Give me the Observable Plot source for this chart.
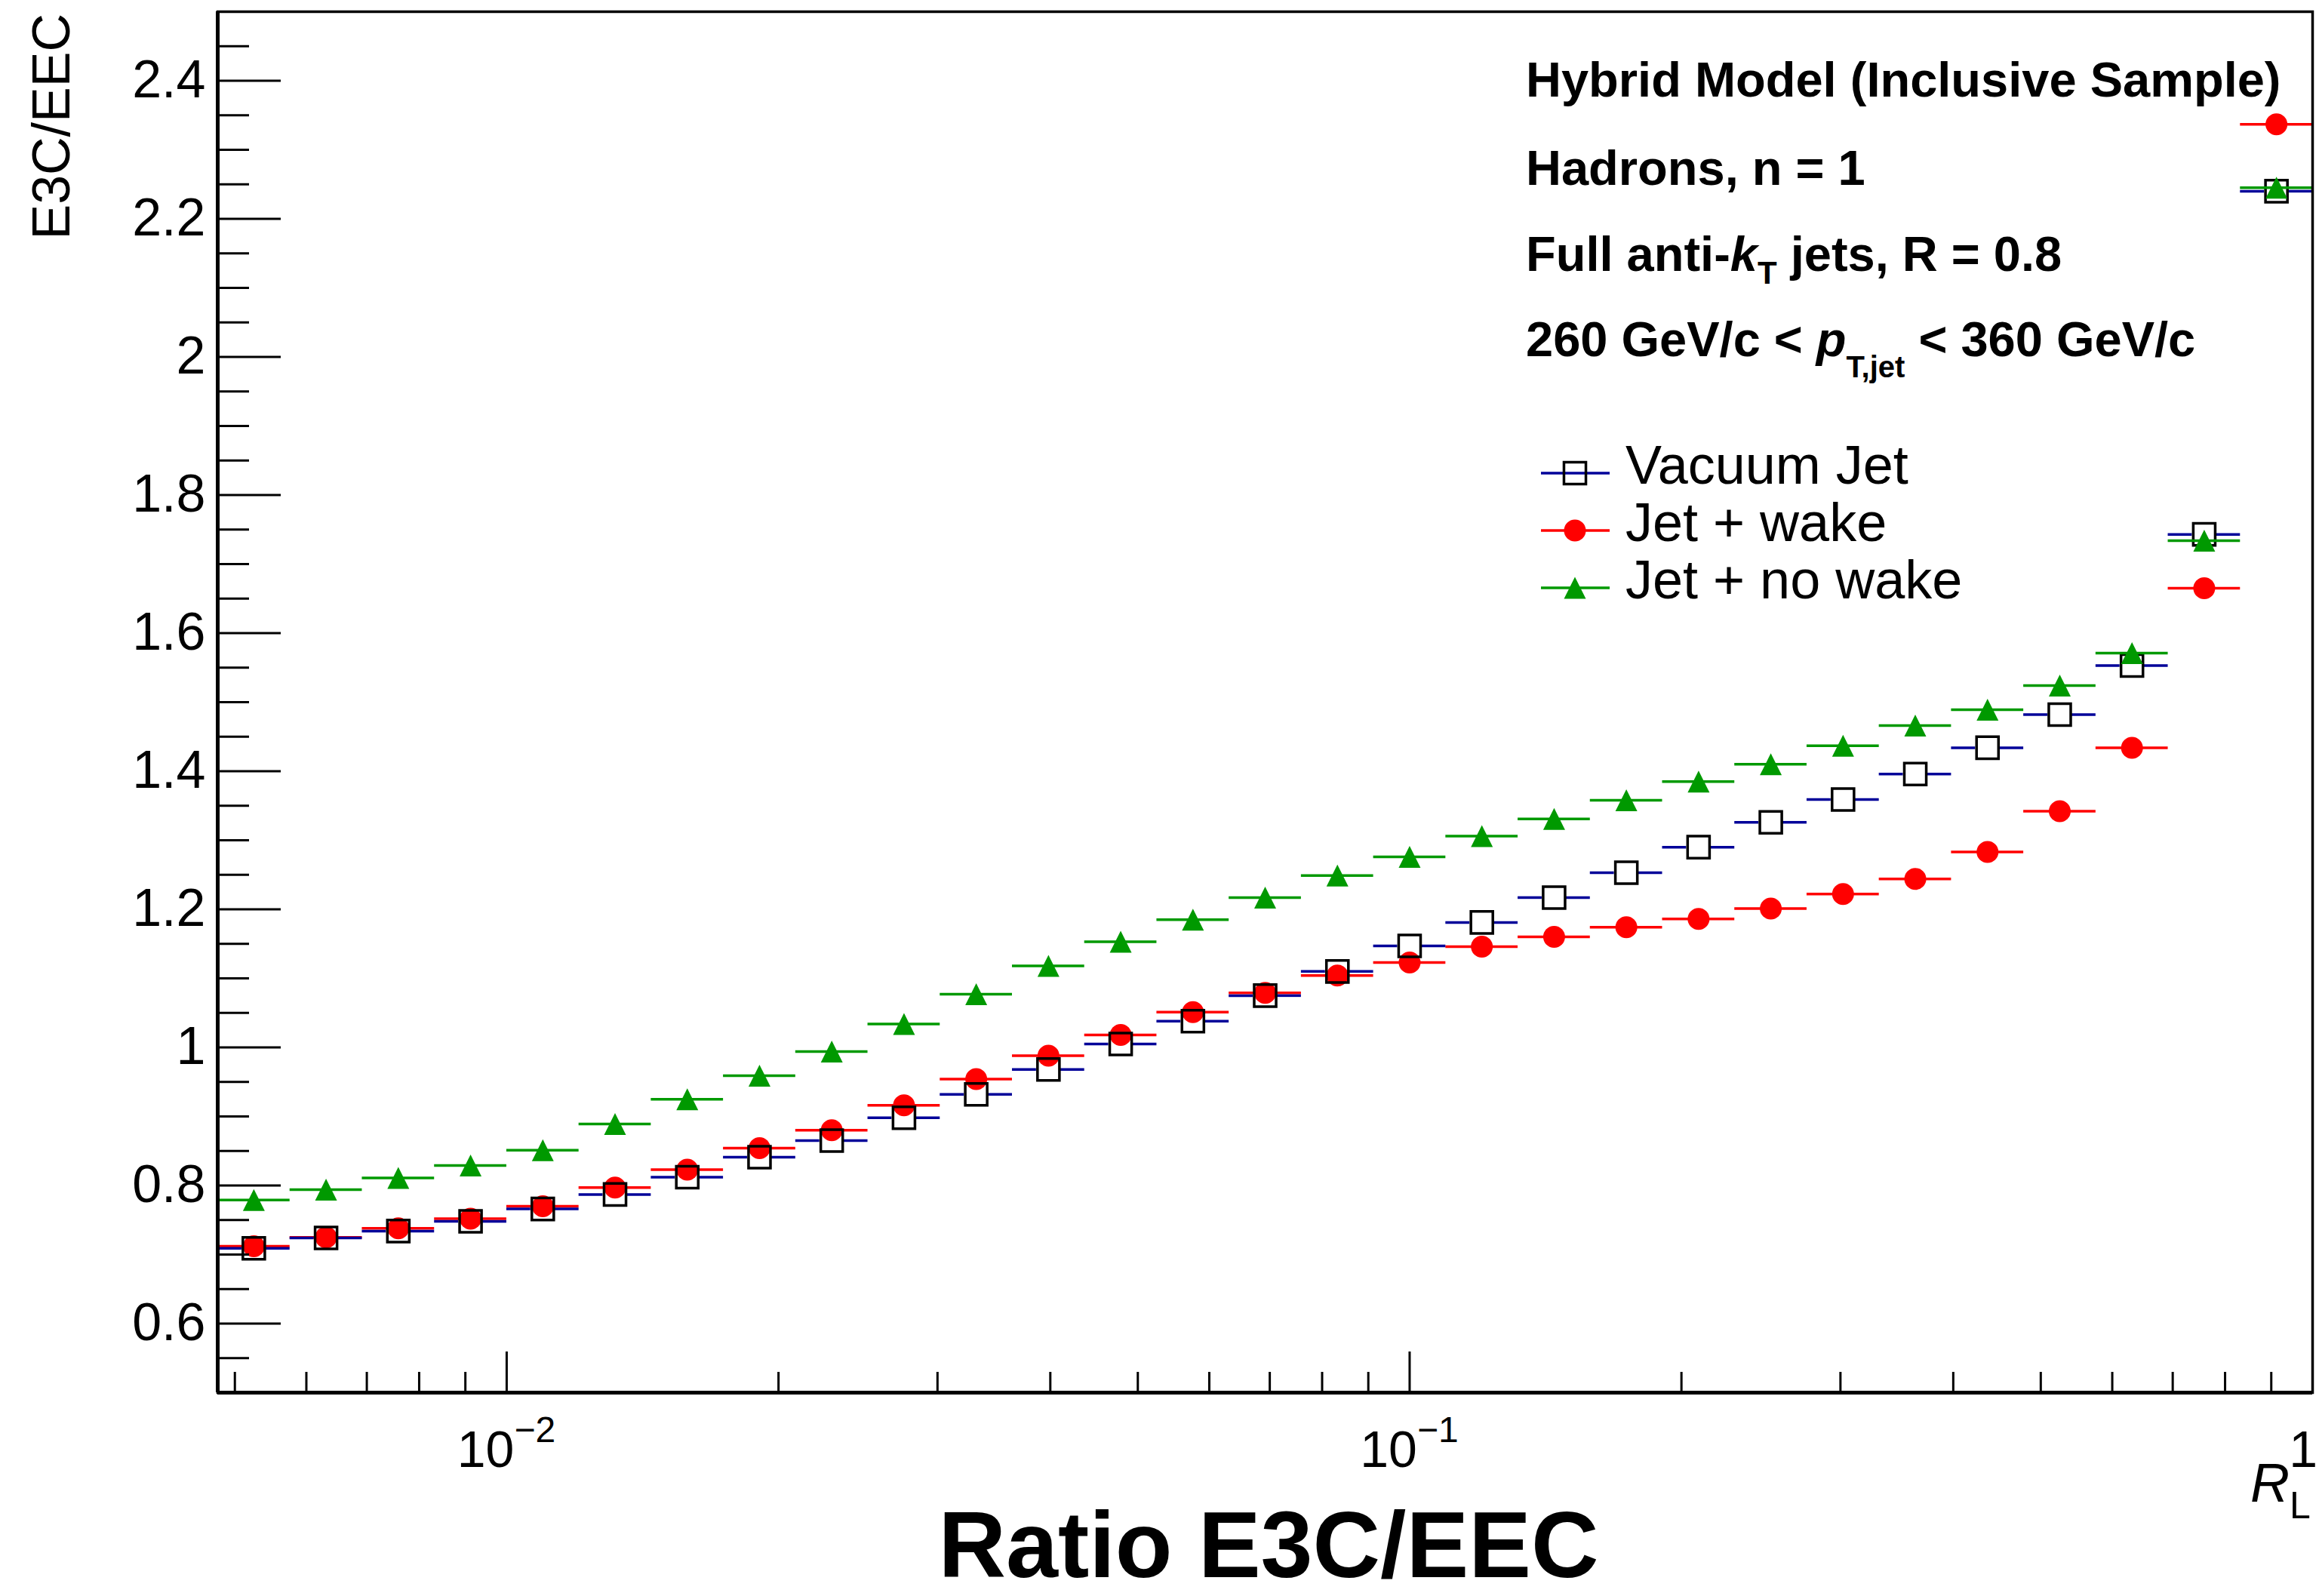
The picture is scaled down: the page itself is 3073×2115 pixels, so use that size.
<!DOCTYPE html>
<html>
<head>
<meta charset="utf-8">
<script src="https://cdn.jsdelivr.net/npm/d3@7"></script>
<script src="https://cdn.jsdelivr.net/npm/@observablehq/plot@0.6"></script>
<style>
  html, body { margin: 0; padding: 0; background: #fff; }
  svg { display: block; }
</style>
</head>
<body>
<div id="chart"></div>
<script>
// ---------- data ----------
// R_L bin edges (log-spaced bins)
const binEdges = [0.004786, 0.005754, 0.006918, 0.008318, 0.01, 0.012023, 0.014454, 0.017378,
  0.020893, 0.025119, 0.030200, 0.036308, 0.043652, 0.052481, 0.063096, 0.075858, 0.091201,
  0.109648, 0.131826, 0.158489, 0.190546, 0.229087, 0.275423, 0.331131, 0.398107, 0.478630,
  0.575440, 0.691831, 0.831764, 1.0];

const vacuumJet = [0.709, 0.724, 0.734, 0.748, 0.766, 0.787, 0.812, 0.841, 0.865, 0.898,
  0.932, 0.968, 1.005, 1.038, 1.075, 1.110, 1.147, 1.181, 1.217, 1.253,
  1.290, 1.326, 1.359, 1.396, 1.434, 1.482, 1.553, 1.743, 2.240];

const jetWake = [0.712, 0.725, 0.738, 0.752, 0.770, 0.797, 0.823, 0.854, 0.880, 0.916,
  0.954, 0.988, 1.018, 1.051, 1.079, 1.104, 1.123, 1.146, 1.160, 1.174,
  1.186, 1.201, 1.222, 1.244, 1.283, 1.342, 1.434, 1.665, 2.337];

const jetNoWake = [0.779, 0.794, 0.811, 0.829, 0.851, 0.889, 0.925, 0.959, 0.994, 1.034,
  1.077, 1.118, 1.153, 1.185, 1.217, 1.249, 1.276, 1.306, 1.331, 1.358,
  1.385, 1.410, 1.437, 1.466, 1.489, 1.524, 1.571, 1.734, 2.245];

const seriesNames = ["Vacuum Jet", "Jet + wake", "Jet + no wake"];

const yMajorTicks = [0.6, 0.8, 1, 1.2, 1.4, 1.6, 1.8, 2, 2.2, 2.4];
const yMinorTicks = [0.55, 0.65, 0.7, 0.75, 0.85, 0.9, 0.95, 1.05, 1.1, 1.15, 1.25, 1.3, 1.35,
  1.45, 1.5, 1.55, 1.65, 1.7, 1.75, 1.85, 1.9, 1.95, 2.05, 2.1, 2.15, 2.25, 2.3, 2.35, 2.45];
const xMajorTicks = [0.01, 0.1, 1];
const xTickBase = ["10", "10", "1"];
const xTickExp = ["\u22122", "\u22121", ""];
const xMinorTicks = [0.005, 0.006, 0.007, 0.008, 0.009, 0.02, 0.03, 0.04, 0.05, 0.06, 0.07,
  0.08, 0.09, 0.2, 0.3, 0.4, 0.5, 0.6, 0.7, 0.8, 0.9];

// ---------- layout ----------
const W = 3073, H = 2115;
const mL = 288, mR = 9, mT = 15, mB = 270;
const plotW = W - mL - mR, plotH = H - mT - mB;
const FONT = "'Liberation Sans', Arial, Helvetica, sans-serif";

const BLUE = "#000099", RED = "#ff0000", GREEN = "#009900";

function rows(values) {
  return values.map((v, i) => ({
    x1: binEdges[i], x2: binEdges[i + 1],
    xc: Math.sqrt(binEdges[i] * binEdges[i + 1]), y: v
  }));
}
const vacRows = rows(vacuumJet), wakeRows = rows(jetWake), noWakeRows = rows(jetNoWake);

// triangle centred on its bounding box (like ROOT marker 22)
const triangleSymbol = {
  draw(context, size) {
    const r = Math.sqrt(size / Math.PI);
    context.moveTo(0, -r);
    context.lineTo(r, r);
    context.lineTo(-r, r);
    context.closePath();
  }
};

const barW = 3.5;

const chart = Plot.plot({
  width: W, height: H,
  marginLeft: mL, marginRight: mR, marginTop: mT, marginBottom: mB,
  style: { background: "white", fontFamily: FONT, fontSize: "70px", color: "black", overflow: "visible" },
  x: { type: "log", domain: [binEdges[0], 1], axis: null },
  y: { domain: [0.5, 2.5] },
  marks: [
    // Jet + wake
    Plot.ruleY(wakeRows, { y: "y", x1: "x1", x2: "x2", stroke: RED, strokeWidth: barW }),
    Plot.dot(wakeRows, { x: "xc", y: "y", r: 14.5, fill: RED, stroke: null }),
    // Vacuum jet
    Plot.ruleY(vacRows, { y: "y", x1: "x1", x2: "xc", insetRight: 16, stroke: BLUE, strokeWidth: barW }),
    Plot.ruleY(vacRows, { y: "y", x1: "xc", x2: "x2", insetLeft: 16, stroke: BLUE, strokeWidth: barW }),
    Plot.dot(vacRows, { x: "xc", y: "y", symbol: "square", r: 16.4, fill: "none", stroke: "black", strokeWidth: 3.5 }),
    // Jet + no wake
    Plot.ruleY(noWakeRows, { y: "y", x1: "x1", x2: "x2", stroke: GREEN, strokeWidth: barW }),
    Plot.dot(noWakeRows, { x: "xc", y: "y", symbol: triangleSymbol, r: 14.5, fill: GREEN, stroke: null }),
    // ticks (inside)
    Plot.tickY(yMajorTicks, { y: d => d, stroke: "black", strokeWidth: 3, insetRight: plotW - 84 }),
    Plot.tickY(yMinorTicks, { y: d => d, stroke: "black", strokeWidth: 3, insetRight: plotW - 42 }),
    Plot.tickX(xMajorTicks, { x: d => d, stroke: "black", strokeWidth: 3, insetTop: plotH - 54 }),
    Plot.tickX(xMinorTicks, { x: d => d, stroke: "black", strokeWidth: 3, insetTop: plotH - 27 }),
    // y tick labels
    Plot.axisY(yMajorTicks, { anchor: "left", tickSize: 0, tickPadding: 16, fontSize: 70,
      tickFormat: d => String(d), label: null }),
    // frame + axis lines
    Plot.frame({ stroke: "black", strokeWidth: 3.5 }),
    Plot.ruleX([binEdges[0]], { stroke: "black", strokeWidth: 5 }),
    Plot.ruleY([0.5], { stroke: "black", strokeWidth: 5 })
  ]
});

document.getElementById("chart").appendChild(chart);

// ---------- text annotations ----------
const svg = d3.select(chart);
const xs = chart.scale("x");

// x tick labels (10^-2, 10^-1, 1)
const xl = svg.append("g").attr("font-family", FONT).attr("fill", "black");
xMajorTicks.forEach((v, i) => {
  const px = xs.apply(v);
  const last = px > W - 40;
  const t = xl.append("text")
    .attr("x", last ? W - 2 : px)
    .attr("y", 1944)
    .attr("text-anchor", last ? "end" : "middle")
    .attr("font-size", 68);
  t.append("tspan").text(xTickBase[i]);
  if (xTickExp[i]) {
    t.append("tspan").attr("font-size", 48).attr("dy", -33).text(xTickExp[i]);
  }
});

// x axis label R_L
const rl = svg.append("text").attr("x", 2982).attr("y", 1990)
  .attr("text-anchor", "start")
  .attr("font-family", FONT).attr("font-size", 72).attr("fill", "black");
rl.append("tspan").attr("font-style", "italic").text("R");
rl.append("tspan").attr("font-size", 50).attr("dy", 22).text("L");

// y axis title
svg.append("text")
  .attr("transform", "translate(92,18) rotate(-90)")
  .attr("text-anchor", "end")
  .attr("font-family", FONT).attr("font-size", 70).attr("fill", "black")
  .text("E3C/EEC");

// big bottom title
svg.append("text")
  .attr("x", 1681).attr("y", 2090)
  .attr("text-anchor", "middle")
  .attr("font-family", FONT).attr("font-size", 124).attr("font-weight", "bold").attr("fill", "black")
  .text("Ratio E3C/EEC");

// info block
const info = svg.append("g").attr("font-family", FONT).attr("font-size", 65)
  .attr("font-weight", "bold").attr("fill", "black").attr("text-anchor", "start");
info.append("text").attr("x", 2022).attr("y", 128).text("Hybrid Model (Inclusive Sample)");
info.append("text").attr("x", 2022).attr("y", 245).text("Hadrons, n = 1");
const l3 = info.append("text").attr("x", 2022).attr("y", 359);
l3.append("tspan").text("Full anti-");
l3.append("tspan").attr("font-style", "italic").text("k");
l3.append("tspan").attr("font-size", 42).attr("dy", 17).text("T");
l3.append("tspan").attr("dy", -17).text(" jets, R = 0.8");
const l4 = info.append("text").attr("x", 2022).attr("y", 472);
l4.append("tspan").text("260 GeV/c < ");
l4.append("tspan").attr("font-style", "italic").text("p");
l4.append("tspan").attr("font-size", 40).attr("dy", 28).text("T,jet");
l4.append("tspan").attr("dy", -28).text(" < 360 GeV/c");

// legend
const legendY = [627, 703, 779];
const legendLine = [BLUE, RED, GREEN];
const lg = svg.append("g").attr("font-family", FONT).attr("text-anchor", "start");
seriesNames.forEach((name, i) => {
  const y = legendY[i];
  lg.append("line").attr("x1", 2042).attr("x2", 2133).attr("y1", y).attr("y2", y)
    .attr("stroke", legendLine[i]).attr("stroke-width", barW);
  if (i === 0) {
    lg.append("path").attr("transform", `translate(2087,${y})`)
      .attr("d", d3.symbol(d3.symbolSquare, Math.PI * 16.4 * 16.4)())
      .attr("fill", "none").attr("stroke", "black").attr("stroke-width", 3.5);
  } else if (i === 1) {
    lg.append("circle").attr("cx", 2087).attr("cy", y).attr("r", 14.5).attr("fill", RED);
  } else {
    lg.append("path").attr("transform", `translate(2087,${y})`)
      .attr("d", d3.symbol(triangleSymbol, Math.PI * 14.5 * 14.5)())
      .attr("fill", GREEN);
  }
  lg.append("text").attr("x", 2154).attr("y", y + 14)
    .attr("font-size", 72).attr("fill", "black").attr("text-anchor", "start").text(name);
});
</script>
</body>
</html>
